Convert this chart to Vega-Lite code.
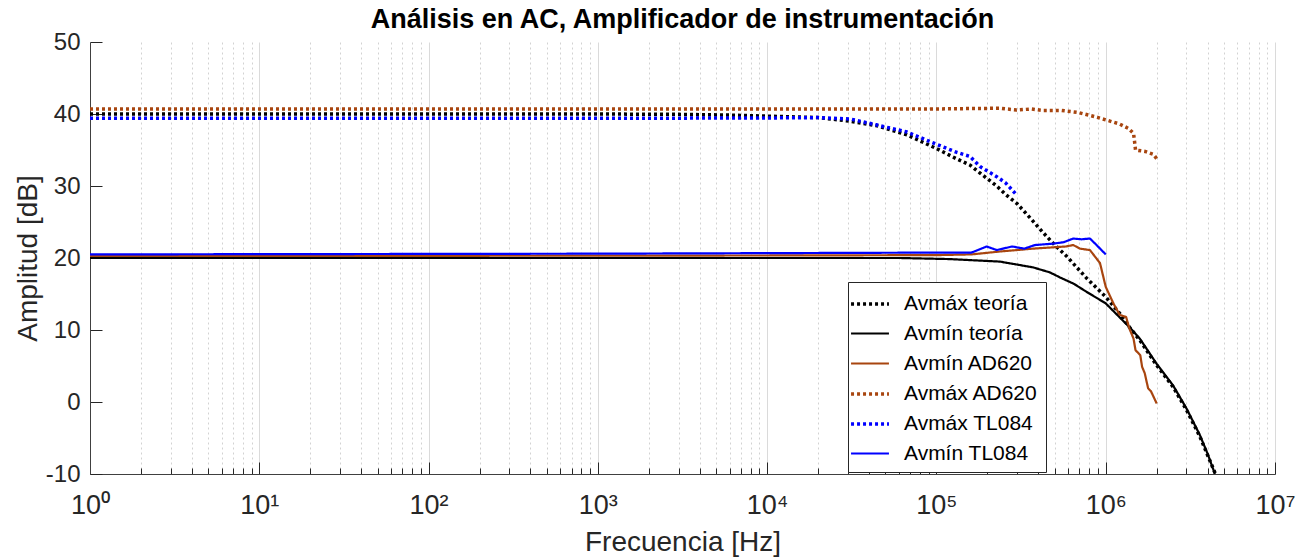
{
  "$schema": "https://vega.github.io/schema/vega-lite/v6.json",
  "width": 1185,
  "height": 432,
  "autosize": {"type": "none"},
  "padding": {"left": 90, "top": 42, "right": 32, "bottom": 85},
  "background": "white",
  "config": {"view": {"stroke": null}, "font": "Liberation Sans"},
  "title": {"text": "Análisis en AC, Amplificador de instrumentación", "fontSize": 27, "fontWeight": "bold", "color": "#000000", "offset": -4, "anchor": "middle", "font": "Liberation Sans"},
  "data": {"values": [
    {"s": "Avmáx teoría", "f": 1, "db": 40.0},
    {"s": "Avmáx teoría", "f": 100, "db": 40.0},
    {"s": "Avmáx teoría", "f": 1000, "db": 40.0},
    {"s": "Avmáx teoría", "f": 3000, "db": 39.95},
    {"s": "Avmáx teoría", "f": 6000, "db": 39.85},
    {"s": "Avmáx teoría", "f": 10000, "db": 39.7},
    {"s": "Avmáx teoría", "f": 20000, "db": 39.5},
    {"s": "Avmáx teoría", "f": 31000, "db": 39.0},
    {"s": "Avmáx teoría", "f": 44000, "db": 38.4},
    {"s": "Avmáx teoría", "f": 67000, "db": 37.1},
    {"s": "Avmáx teoría", "f": 100000, "db": 35.2},
    {"s": "Avmáx teoría", "f": 131000, "db": 33.8},
    {"s": "Avmáx teoría", "f": 158000, "db": 32.9},
    {"s": "Avmáx teoría", "f": 181000, "db": 31.8},
    {"s": "Avmáx teoría", "f": 227000, "db": 30.0},
    {"s": "Avmáx teoría", "f": 257000, "db": 28.8},
    {"s": "Avmáx teoría", "f": 298000, "db": 27.6},
    {"s": "Avmáx teoría", "f": 360000, "db": 25.5},
    {"s": "Avmáx teoría", "f": 424000, "db": 23.6},
    {"s": "Avmáx teoría", "f": 500000, "db": 21.8},
    {"s": "Avmáx teoría", "f": 590000, "db": 20.2},
    {"s": "Avmáx teoría", "f": 771000, "db": 17.2},
    {"s": "Avmáx teoría", "f": 1000000, "db": 14.6},
    {"s": "Avmáx teoría", "f": 1210000, "db": 12.3},
    {"s": "Avmáx teoría", "f": 1380000, "db": 10.4},
    {"s": "Avmáx teoría", "f": 1600000, "db": 8.5},
    {"s": "Avmáx teoría", "f": 2000000, "db": 5.1},
    {"s": "Avmáx teoría", "f": 2500000, "db": 2.1},
    {"s": "Avmáx teoría", "f": 3000000, "db": -1.1},
    {"s": "Avmáx teoría", "f": 3600000, "db": -4.8},
    {"s": "Avmáx teoría", "f": 4000000, "db": -7.4},
    {"s": "Avmáx teoría", "f": 4450000, "db": -10.0},

    {"s": "Avmín teoría", "f": 1, "db": 20.0},
    {"s": "Avmín teoría", "f": 1000, "db": 20.0},
    {"s": "Avmín teoría", "f": 10000, "db": 20.0},
    {"s": "Avmín teoría", "f": 61000, "db": 20.0},
    {"s": "Avmín teoría", "f": 120000, "db": 19.85},
    {"s": "Avmín teoría", "f": 237000, "db": 19.5},
    {"s": "Avmín teoría", "f": 372000, "db": 18.7},
    {"s": "Avmín teoría", "f": 468000, "db": 18.0},
    {"s": "Avmín teoría", "f": 537000, "db": 17.3},
    {"s": "Avmín teoría", "f": 650000, "db": 16.4},
    {"s": "Avmín teoría", "f": 771000, "db": 15.3},
    {"s": "Avmín teoría", "f": 1000000, "db": 13.7},
    {"s": "Avmín teoría", "f": 1380000, "db": 10.4},
    {"s": "Avmín teoría", "f": 1590000, "db": 8.8},
    {"s": "Avmín teoría", "f": 2000000, "db": 5.3},
    {"s": "Avmín teoría", "f": 2500000, "db": 2.3},
    {"s": "Avmín teoría", "f": 3000000, "db": -0.9},
    {"s": "Avmín teoría", "f": 3600000, "db": -4.6},
    {"s": "Avmín teoría", "f": 4000000, "db": -7.2},
    {"s": "Avmín teoría", "f": 4420000, "db": -10.0},

    {"s": "Avmín AD620", "f": 1, "db": 20.3},
    {"s": "Avmín AD620", "f": 100, "db": 20.3},
    {"s": "Avmín AD620", "f": 10000, "db": 20.35},
    {"s": "Avmín AD620", "f": 100000, "db": 20.4},
    {"s": "Avmín AD620", "f": 161000, "db": 20.5},
    {"s": "Avmín AD620", "f": 237000, "db": 20.9},
    {"s": "Avmín AD620", "f": 372000, "db": 21.3},
    {"s": "Avmín AD620", "f": 581000, "db": 21.6},
    {"s": "Avmín AD620", "f": 643000, "db": 21.8},
    {"s": "Avmín AD620", "f": 705000, "db": 21.3},
    {"s": "Avmín AD620", "f": 807000, "db": 21.1},
    {"s": "Avmín AD620", "f": 925000, "db": 19.3},
    {"s": "Avmín AD620", "f": 1000000, "db": 16.0},
    {"s": "Avmín AD620", "f": 1110000, "db": 13.7},
    {"s": "Avmín AD620", "f": 1210000, "db": 12.1},
    {"s": "Avmín AD620", "f": 1320000, "db": 11.8},
    {"s": "Avmín AD620", "f": 1380000, "db": 10.2},
    {"s": "Avmín AD620", "f": 1460000, "db": 8.8},
    {"s": "Avmín AD620", "f": 1500000, "db": 7.2},
    {"s": "Avmín AD620", "f": 1600000, "db": 6.5},
    {"s": "Avmín AD620", "f": 1640000, "db": 4.9},
    {"s": "Avmín AD620", "f": 1700000, "db": 4.0},
    {"s": "Avmín AD620", "f": 1780000, "db": 1.9},
    {"s": "Avmín AD620", "f": 1850000, "db": 1.5},
    {"s": "Avmín AD620", "f": 2000000, "db": -0.2},

    {"s": "Avmáx AD620", "f": 1, "db": 40.7},
    {"s": "Avmáx AD620", "f": 1000, "db": 40.7},
    {"s": "Avmáx AD620", "f": 100000, "db": 40.7},
    {"s": "Avmáx AD620", "f": 237000, "db": 40.8},
    {"s": "Avmáx AD620", "f": 298000, "db": 40.55},
    {"s": "Avmáx AD620", "f": 365000, "db": 40.7},
    {"s": "Avmáx AD620", "f": 420000, "db": 40.5},
    {"s": "Avmáx AD620", "f": 549000, "db": 40.5},
    {"s": "Avmáx AD620", "f": 689000, "db": 40.2},
    {"s": "Avmáx AD620", "f": 807000, "db": 39.8},
    {"s": "Avmáx AD620", "f": 903000, "db": 39.5},
    {"s": "Avmáx AD620", "f": 1030000, "db": 39.1},
    {"s": "Avmáx AD620", "f": 1210000, "db": 38.6},
    {"s": "Avmáx AD620", "f": 1360000, "db": 38.0},
    {"s": "Avmáx AD620", "f": 1460000, "db": 37.3},
    {"s": "Avmáx AD620", "f": 1480000, "db": 36.2},
    {"s": "Avmáx AD620", "f": 1500000, "db": 35.0},
    {"s": "Avmáx AD620", "f": 1710000, "db": 34.8},
    {"s": "Avmáx AD620", "f": 1910000, "db": 34.4},
    {"s": "Avmáx AD620", "f": 2000000, "db": 33.8},

    {"s": "Avmáx TL084", "f": 1, "db": 39.4},
    {"s": "Avmáx TL084", "f": 1000, "db": 39.4},
    {"s": "Avmáx TL084", "f": 10000, "db": 39.45},
    {"s": "Avmáx TL084", "f": 20000, "db": 39.5},
    {"s": "Avmáx TL084", "f": 31000, "db": 39.3},
    {"s": "Avmáx TL084", "f": 44000, "db": 38.5},
    {"s": "Avmáx TL084", "f": 67000, "db": 37.5},
    {"s": "Avmáx TL084", "f": 100000, "db": 35.8},
    {"s": "Avmáx TL084", "f": 131000, "db": 34.7},
    {"s": "Avmáx TL084", "f": 158000, "db": 34.1},
    {"s": "Avmáx TL084", "f": 181000, "db": 32.7},
    {"s": "Avmáx TL084", "f": 227000, "db": 31.3},
    {"s": "Avmáx TL084", "f": 257000, "db": 30.4},
    {"s": "Avmáx TL084", "f": 298000, "db": 28.75},

    {"s": "Avmín TL084", "f": 1, "db": 20.5},
    {"s": "Avmín TL084", "f": 1000, "db": 20.6},
    {"s": "Avmín TL084", "f": 100000, "db": 20.75},
    {"s": "Avmín TL084", "f": 161000, "db": 20.75},
    {"s": "Avmín TL084", "f": 198000, "db": 21.6},
    {"s": "Avmín TL084", "f": 227000, "db": 21.1},
    {"s": "Avmín TL084", "f": 280000, "db": 21.6},
    {"s": "Avmín TL084", "f": 330000, "db": 21.3},
    {"s": "Avmín TL084", "f": 382000, "db": 21.8},
    {"s": "Avmín TL084", "f": 493000, "db": 22.0},
    {"s": "Avmín TL084", "f": 565000, "db": 22.2},
    {"s": "Avmín TL084", "f": 643000, "db": 22.7},
    {"s": "Avmín TL084", "f": 719000, "db": 22.6},
    {"s": "Avmín TL084", "f": 807000, "db": 22.7},
    {"s": "Avmín TL084", "f": 883000, "db": 21.8},
    {"s": "Avmín TL084", "f": 1000000, "db": 20.5}
  ]},
  "mark": {"type": "line", "strokeCap": "butt", "strokeJoin": "round", "clip": true},
  "encoding": {
    "x": {
      "field": "f", "type": "quantitative",
      "scale": {"type": "log", "domain": [1, 10000000], "nice": false},
      "title": "Frecuencia [Hz]",
      "axis": {
        "values": [1,2,3,4,5,6,7,8,9,10,20,30,40,50,60,70,80,90,100,200,300,400,500,600,700,800,900,1000,2000,3000,4000,5000,6000,7000,8000,9000,10000,20000,30000,40000,50000,60000,70000,80000,90000,100000,200000,300000,400000,500000,600000,700000,800000,900000,1000000,2000000,3000000,4000000,5000000,6000000,7000000,8000000,9000000,10000000],
        "labelExpr": "(abs(log(datum.value)/LN10 - round(log(datum.value)/LN10)) < 0.001) ? '10' + ['⁰','¹','²','³','⁴','⁵','⁶','⁷'][round(log(datum.value)/LN10)] : ''",
        "labelOverlap": false,
        "labelFlush": false,
        "labelFontSize": 27,
        "labelColor": "#262626",
        "labelPadding": 30,
        "labelFont": "Liberation Sans",
        "grid": true,
        "gridColor": {"condition": {"test": "abs(log(datum.value)/LN10 - round(log(datum.value)/LN10)) < 0.001", "value": "#dadada"}, "value": "#d2d2d2"},
        "gridDash": {"condition": {"test": "abs(log(datum.value)/LN10 - round(log(datum.value)/LN10)) < 0.001", "value": []}, "value": [2, 3]},
        "gridWidth": 1,
        "tickSize": {"condition": {"test": "abs(log(datum.value)/LN10 - round(log(datum.value)/LN10)) < 0.001", "value": -12}, "value": -6},
        "tickColor": "#262626",
        "tickWidth": 1,
        "domainColor": "#404040",
        "domainWidth": 1,
        "titleFontSize": 28,
        "titleFontWeight": "normal",
        "titleColor": "#262626",
        "titleFont": "Liberation Sans",
        "titlePadding": 4
      }
    },
    "y": {
      "field": "db", "type": "quantitative",
      "scale": {"domain": [-10, 50], "nice": false},
      "title": "Amplitud [dB]",
      "axis": {
        "values": [-10, 0, 10, 20, 30, 40, 50],
        "labelExpr": "datum.value < 0 ? '-' + abs(datum.value) : '' + datum.value",
        "grid": false,
        "labelFontSize": 24,
        "labelColor": "#262626",
        "labelPadding": 22,
        "labelFont": "Liberation Sans",
        "tickSize": -12,
        "tickColor": "#262626",
        "tickWidth": 1,
        "domainColor": "#404040",
        "domainWidth": 1,
        "titleFontSize": 28,
        "titleFontWeight": "normal",
        "titleColor": "#262626",
        "titleFont": "Liberation Sans",
        "titlePadding": 3
      }
    },
    "color": {
      "field": "s", "type": "nominal",
      "scale": {"domain": ["Avmáx teoría", "Avmín teoría", "Avmín AD620", "Avmáx AD620", "Avmáx TL084", "Avmín TL084"], "range": ["#000000", "#000000", "#A8450F", "#A8450F", "#0000FF", "#0000FF"]},
      "legend": {"title": null, "orient": "none", "legendX": 758, "legendY": 240, "fillColor": "white", "strokeColor": "#262626", "padding": 8, "labelFontSize": 21, "labelColor": "#000000", "labelFont": "Liberation Sans", "symbolType": "M-1.58,0H1.58", "symbolSize": 576, "rowPadding": 6, "labelOffset": 20}
    },
    "strokeDash": {
      "field": "s", "type": "nominal",
      "scale": {"domain": ["Avmáx teoría", "Avmín teoría", "Avmín AD620", "Avmáx AD620", "Avmáx TL084", "Avmín TL084"], "range": [[3, 3], [1, 0], [1, 0], [3, 3], [3, 3], [1, 0]]},
      "legend": {"title": null, "orient": "none", "legendX": 758, "legendY": 240, "fillColor": "white", "strokeColor": "#262626", "padding": 8, "labelFontSize": 21, "labelColor": "#000000", "labelFont": "Liberation Sans", "symbolType": "M-1.58,0H1.58", "symbolSize": 576, "rowPadding": 6, "labelOffset": 20}
    },
    "strokeWidth": {
      "field": "s", "type": "nominal",
      "scale": {"type": "ordinal", "domain": ["Avmáx teoría", "Avmín teoría", "Avmín AD620", "Avmáx AD620", "Avmáx TL084", "Avmín TL084"], "range": [3.5, 2.2, 2.2, 3.5, 3.5, 2.2]},
      "legend": {"title": null, "orient": "none", "legendX": 758, "legendY": 240, "fillColor": "white", "strokeColor": "#262626", "padding": 8, "labelFontSize": 21, "labelColor": "#000000", "labelFont": "Liberation Sans", "symbolType": "M-1.58,0H1.58", "symbolSize": 576, "rowPadding": 6, "labelOffset": 20}
    }
  }
}
